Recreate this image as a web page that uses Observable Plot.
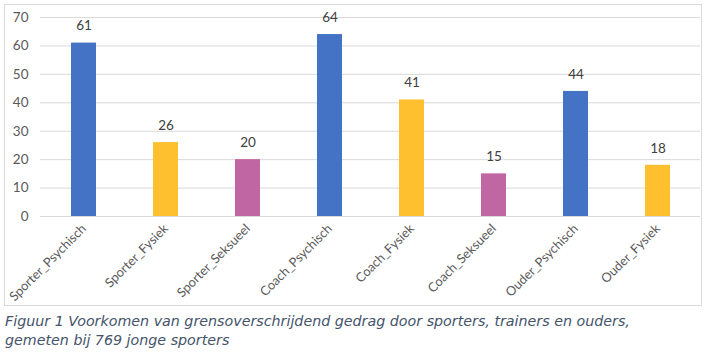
<!DOCTYPE html>
<html>
<head>
<meta charset="utf-8">
<script src="https://cdn.jsdelivr.net/npm/d3@7"></script>
<script src="https://cdn.jsdelivr.net/npm/@observablehq/plot@0.6"></script>
<style>
  html, body { margin: 0; padding: 0; background: #fff; }
  #wrap { position: relative; width: 715px; height: 353px; }
  #box { position: absolute; left: 4px; top: 4px; width: 696px; height: 300px; border: 1px solid #d9d9d9; }
  #chart { position: absolute; left: 0; top: 0; }
  #caption { position: absolute; left: 5px; top: 312px; font-family: "DejaVu Sans", sans-serif; font-style: italic;
    font-size: 14.25px; line-height: 19px; color: #44546A; white-space: nowrap; }
</style>
</head>
<body>
<div id="wrap">
  <div id="box"></div>
  <div id="chart"></div>
  <div id="caption">Figuur 1 Voorkomen van grensoverschrijdend gedrag door sporters, trainers en ouders,<br>gemeten bij 769 jonge sporters</div>
</div>
<script>
const categories = ["Sporter_Psychisch", "Sporter_Fysiek", "Sporter_Seksueel", "Coach_Psychisch", "Coach_Fysiek", "Coach_Seksueel", "Ouder_Psychisch", "Ouder_Fysiek"];
const values = [61, 26, 20, 64, 41, 15, 44, 18];
const types = ["Psychisch", "Fysiek", "Seksueel"];
const typeColors = ["#4472C4", "#FEC02F", "#C066A3"];
const yTicks = [0, 10, 20, 30, 40, 50, 60, 70];

const data = categories.map((c, i) => ({cat: c, value: values[i], type: c.split("_")[1]}));

const chart = Plot.plot({
  width: 715,
  height: 307,
  marginLeft: 40,
  marginRight: 15,
  marginTop: 17,
  marginBottom: 91,
  style: {fontFamily: "Lato, sans-serif", fontSize: "13px", color: "#595959", background: "transparent"},
  x: {domain: categories, paddingInner: 0.7, paddingOuter: 0.35, label: null},
  y: {domain: [0, 70], label: null},
  color: {domain: types, range: typeColors},
  marks: [
    Plot.gridY(yTicks, {stroke: "#d9d9d9", strokeOpacity: 1, strokeWidth: 1}),
    Plot.axisY(yTicks, {tickSize: 0, tickPadding: 12, label: null, fill: "#595959", fontSize: 13.5}),
    Plot.axisX({tickSize: 0, tickPadding: 10, tickRotate: -45, label: null, fill: "#595959", fontSize: 12.8}),
    Plot.barY(data, {x: "cat", y: "value", fill: "type"}),
    Plot.text(data, {x: "cat", y: "value", text: d => String(d.value), dy: -17, fill: "#404040", fontSize: 13.5})
  ]
});
document.getElementById("chart").appendChild(chart);
</script>
</body>
</html>
